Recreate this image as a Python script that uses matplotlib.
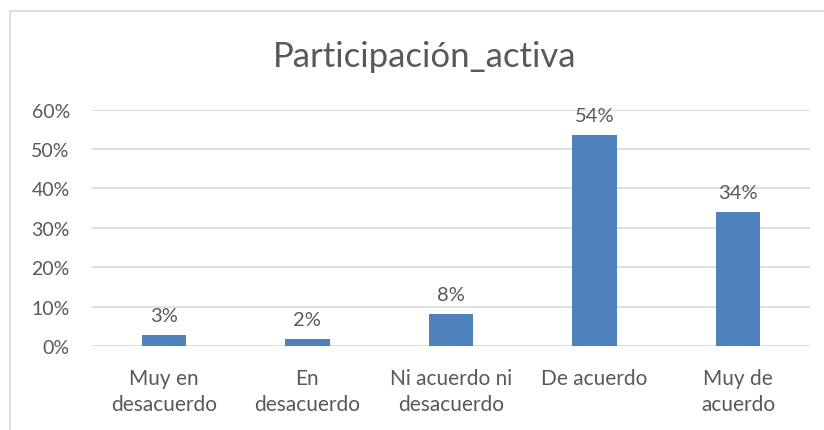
import matplotlib.pyplot as plt
import matplotlib.patches as patches
import numpy as np

# Data
categorias = ['Muy en\ndesacuerdo', 'En\ndesacuerdo', 'Ni acuerdo ni\ndesacuerdo', 'De acuerdo', 'Muy de\nacuerdo']
valores = [0.027, 0.018, 0.080, 0.536, 0.339]
etiquetas = ['3%', '2%', '8%', '54%', '34%']
yticks = [0, 0.1, 0.2, 0.3, 0.4, 0.5, 0.6]

txt = '#595959'
plt.rcParams['font.family'] = ['Lato', 'DejaVu Sans']

fig = plt.figure(figsize=(8.24, 4.31), dpi=100)
ax = fig.add_axes([92/824, 1-347/431, (810-92)/824, (347-110.7)/431])

x = np.arange(len(categorias))
ax.bar(x, valores, width=0.31, color='#4F81BD', zorder=3)
for xi, v, lab in zip(x, valores, etiquetas):
    ax.annotate(lab, (xi, v), xytext=(0, 8), textcoords='offset points',
                ha='center', va='bottom', fontsize=14.5, color=txt)

ax.set_xlim(-0.5, len(categorias)-0.5)
ax.set_ylim(0, 0.6)
ax.set_yticks(yticks)
ax.set_yticklabels(['%d%%' % round(t*100) for t in yticks])
ax.set_xticks(x)
ax.set_xticklabels(categorias, linespacing=1.35)
ax.tick_params(axis='y', length=0, pad=16, labelsize=14, labelcolor=txt)
ax.tick_params(axis='x', length=0, pad=16, labelsize=15, labelcolor=txt)
ax.grid(True, axis='y', color='#D9D9D9', linewidth=1.2, zorder=0)
for s in ax.spines.values():
    s.set_visible(False)

fig.text(425/824, 1-57/431, 'Participación_activa', ha='center', va='center',
         fontsize=25, color=txt)

# chart border
fig.patches.append(patches.Rectangle((10/824, -0.5), 1.2, 1.5-12/431, transform=fig.transFigure,
                                     fill=False, edgecolor='#D9D9D9', linewidth=1.2))

plt.savefig('out.png', dpi=100)
